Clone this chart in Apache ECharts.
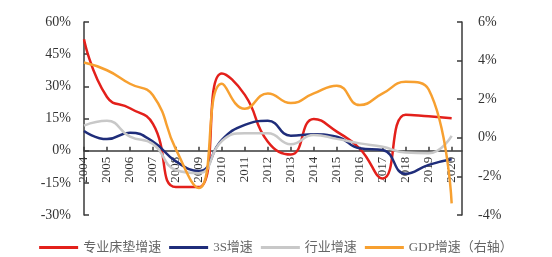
<!DOCTYPE html>
<html>
<head>
<meta charset="utf-8">
<script src="https://cdn.jsdelivr.net/npm/echarts@6/dist/echarts.min.js"></script>
<style>
    html, body { margin: 0; padding: 0; background: #fff; }
    #chart { width: 552px; height: 257px; }
</style>
</head>
<body>
<div id="chart"></div>
<script>
/* 床垫行业增速对比图 */
var years = [2004, 2005, 2006, 2007, 2008, 2009, 2010, 2011, 2012, 2013, 2014, 2015, 2016, 2017, 2018, 2019, 2020];
var mattressGrowth = [52, 25, 19.8, 12.5, -17, -17, 36, 26, 4.2, -1.8, 14.8, 8.9, 1, -13, 16.8, 16, 15.1];   // 专业床垫增速
var threeSGrowth = [9.2, 5.4, 8.4, 4.2, -5, -9.5, 5, 12, 13.9, 7, 7.6, 6.5, 1.1, 0.3, -10.8, -6.6, -4];     // 3S增速
var industryGrowth = [11.7, 13.9, 6.5, 3.1, -9, -10.5, 4.5, 8.1, 8.1, 3, 7.3, 5.5, 3.4, 1.8, -0.9, -1.2, 6.9]; // 行业增速
var gdpGrowth = [3.9, 3.5, 2.8, 2.2, -0.6, -2.6, 2.8, 1.5, 2.3, 1.8, 2.3, 2.7, 1.7, 2.3, 2.9, 2.5, -3.4];    // GDP增速（右轴）

var leftTicks = { min: -30, max: 60, interval: 15 };
var rightTicks = { min: -4, max: 6, interval: 2 };

var gridTop = 22, gridBottom = 42, chartHeight = 257;
// x轴放到左轴0%的位置（v6标签不跟随onZero，改用offset上移）
var plotHeight = chartHeight - gridTop - gridBottom;
var zeroOffset = -plotHeight * (0 - leftTicks.min) / (leftTicks.max - leftTicks.min);

// 把年份和数值拼成[x, y]
function pairs(values) {
    var arr = [];
    for (var i = 0; i < years.length; i++) {
        arr.push([years[i], values[i]]);
    }
    return arr;
}

var serif = "'Liberation Serif', 'DejaVu Serif', serif";
var axisColor = '#3a3a3a';

var dom = document.getElementById('chart');
var myChart = echarts.init(dom);

var option = {
    animation: false,
    backgroundColor: '#fff',
    color: ['#e3201b', '#1f2d7a', '#c8c8c8', '#f7a030'],
    grid: {
        left: 84,
        right: 90,
        top: gridTop,
        bottom: gridBottom
    },
    legend: {
        left: 'center',
        top: 236,
        icon: 'rect',
        itemWidth: 39,
        itemHeight: 3,
        itemGap: 8,
        textStyle: {
            fontSize: 13,
            color: '#666',
            fontFamily: "'Liberation Serif', 'Noto Sans CJK SC', serif"
        },
        data: ['专业床垫增速', '3S增速', '行业增速', 'GDP增速（右轴）']
    },
    xAxis: {
        type: 'value',
        min: 2004,
        max: 2020.45,
        interval: 1,
        offset: zeroOffset,
        splitLine: { show: false },
        axisLine: { onZero: false, lineStyle: { color: axisColor, width: 1.5 } },
        axisTick: { inside: true, length: 4, lineStyle: { color: axisColor, width: 1.5 } },
        axisLabel: {
            rotate: 90,
            margin: 6,
            fontSize: 13,
            color: '#333',
            fontFamily: serif,
            showMaxLabel: false,
            formatter: function (v) {
                return (v === Math.round(v) && v <= 2020) ? String(v) : '';
            }
        }
    },
    yAxis: [{
        type: 'value',
        min: leftTicks.min,
        max: leftTicks.max,
        interval: leftTicks.interval,
        splitLine: { show: false },
        axisLine: { show: true, onZero: false, lineStyle: { color: axisColor, width: 1.5 } },
        axisTick: { show: true, inside: true, length: 5, lineStyle: { color: axisColor, width: 1.5 } },
        axisLabel: {
            margin: 13,
            fontSize: 14,
            color: '#333',
            fontFamily: serif,
            formatter: '{value}%'
        }
    }, {
        type: 'value',
        position: 'right',
        min: rightTicks.min,
        max: rightTicks.max,
        interval: rightTicks.interval,
        splitLine: { show: false },
        axisLine: { show: true, onZero: false, lineStyle: { color: axisColor, width: 1.5 } },
        axisTick: { show: true, inside: true, length: 5, lineStyle: { color: axisColor, width: 1.5 } },
        axisLabel: {
            margin: 16,
            fontSize: 14,
            color: '#333',
            fontFamily: serif,
            formatter: '{value}%'
        }
    }],
    series: [{
        name: '专业床垫增速',
        type: 'line',
        smooth: true,
        showSymbol: false,
        lineStyle: { width: 2.5 },
        data: pairs(mattressGrowth)
    }, {
        name: '3S增速',
        type: 'line',
        smooth: true,
        showSymbol: false,
        lineStyle: { width: 2.5 },
        data: pairs(threeSGrowth)
    }, {
        name: '行业增速',
        type: 'line',
        smooth: true,
        showSymbol: false,
        lineStyle: { width: 2.5 },
        data: pairs(industryGrowth)
    }, {
        name: 'GDP增速（右轴）',
        type: 'line',
        yAxisIndex: 1,
        smooth: true,
        showSymbol: false,
        lineStyle: { width: 2.5 },
        data: pairs(gdpGrowth)
    }]
};

myChart.setOption(option);
</script>
</body>
</html>
